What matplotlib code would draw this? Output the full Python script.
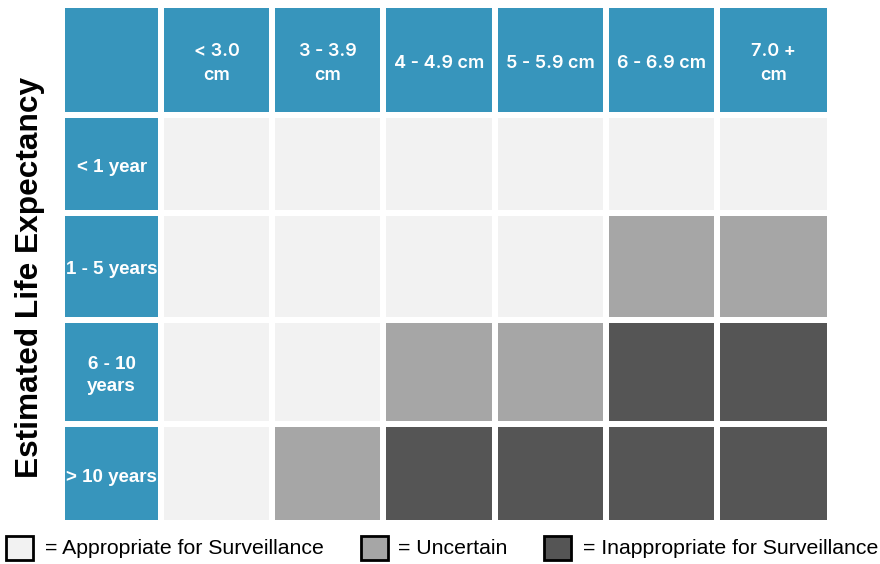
import numpy as np
import matplotlib
matplotlib.use("Agg")
from matplotlib import pyplot as plt
from matplotlib.colors import ListedColormap
from matplotlib.patches import Rectangle

# tumour size columns and life expectancy rows
size_labels = ["< 3.0\ncm", "3 - 3.9\ncm", "4 - 4.9 cm", "5 - 5.9 cm", "6 - 6.9 cm", "7.0 +\ncm"]
life_labels = ["< 1 year", "1 - 5 years", "6 - 10\nyears", "> 10 years"]
# 0 = appropriate, 1 = uncertain, 2 = inappropriate
grades = [
    [0, 0, 0, 0, 0, 0],
    [0, 0, 0, 0, 1, 1],
    [0, 0, 1, 1, 2, 2],
    [0, 1, 2, 2, 2, 2],
]
legend_labels = ["= Appropriate for Surveillance", "= Uncertain", "= Inappropriate for Surveillance"]

blue = "#3795bc"
grays = ["#f2f2f2", "#a6a6a6", "#555555"]

W, H = 880, 564
fig = plt.figure(figsize=(W / 100, H / 100), dpi=100)

# grid occupies px 62..830 horizontally, 5..523 from the top
ax = fig.add_axes([62 / W, 1 - 523 / H, (830 - 62) / W, (523 - 5) / H])
col_w = [99, 111, 111, 111, 111, 111, 113]
row_h = [110, 98, 107, 104, 99]
xe = np.concatenate([[0], np.cumsum(col_w)])
ye = np.concatenate([[0], np.cumsum(row_h)])

nr, nc = len(life_labels) + 1, len(size_labels) + 1
mat = np.full((nr, nc), 3)
mat[1:, 1:] = np.array(grades)
cmap = ListedColormap(grays + [blue])
ax.pcolormesh(xe, ye, mat, cmap=cmap, vmin=-0.5, vmax=3.5,
              edgecolors="white", linewidth=3)
ax.set_xlim(xe[0], xe[-1])
ax.set_ylim(ye[-1], ye[0])
ax.axis("off")

xc = (xe[:-1] + xe[1:]) / 2
yc = (ye[:-1] + ye[1:]) / 2 + 3.5
for j, lab in enumerate(size_labels):
    ax.text(xc[j + 1], yc[0], lab, color="white", fontsize=13, fontweight="semibold",
            family="Inter", ha="center", va="center", linespacing=1.55)
for i, lab in enumerate(life_labels):
    ax.text(xc[0], yc[i + 1], lab, color="white", fontsize=13.5, fontweight="bold",
            family="Liberation Sans", ha="center", va="center", linespacing=1.4)

fig.text(30 / W, 1 - 277 / H, "Estimated Life Expectancy", rotation=90,
         fontsize=22.8, fontweight="bold", family="Liberation Sans",
         ha="center", va="center")

# legend along the bottom
box_x = [6, 361, 544]
text_x = [45, 398, 583]
for k, lab in enumerate(legend_labels):
    fig.add_artist(Rectangle((box_x[k] / W, 1 - 560 / H), 27 / W, 24 / H,
                             transform=fig.transFigure, facecolor=grays[k],
                             edgecolor="black", linewidth=2))
    fig.text(text_x[k] / W, 1 - 549 / H, lab, fontsize=15.3,
             family="Liberation Sans", ha="left", va="center")

fig.savefig("out.png", dpi=100)
